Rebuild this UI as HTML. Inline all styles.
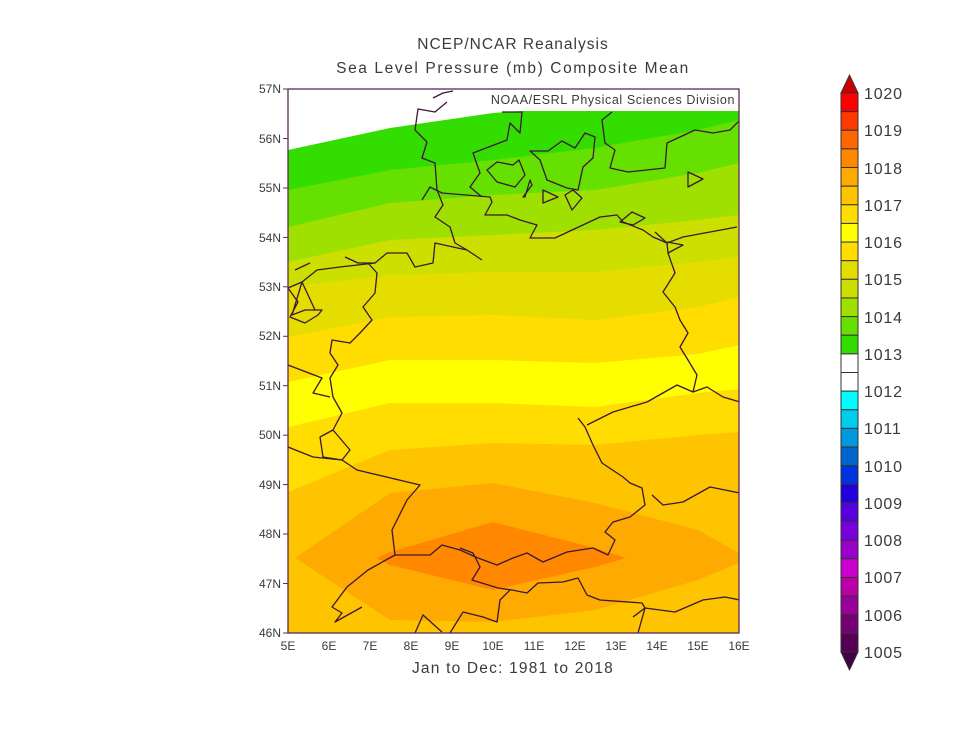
<!DOCTYPE html>
<html><head><meta charset="utf-8"><style>
html,body{margin:0;padding:0;background:#fff}
svg{display:block}
text{font-family:"Liberation Sans","DejaVu Sans",sans-serif;fill:#3a3a3a}
</style></head><body>
<svg width="960" height="744" viewBox="0 0 960 744" xmlns="http://www.w3.org/2000/svg">
<defs><clipPath id="c"><rect x="288" y="89" width="451" height="544"/></clipPath></defs>
<g clip-path="url(#c)">
<rect x="288" y="89" width="451" height="544" fill="#fff"/>
<polygon fill="#33dd00" points="288,150 390,128 493,113 595,106 698,100 739,96 739,640 288,640"/>
<polygon fill="#66e000" points="288,190 390,170 493,160 595,148 698,130 739,120 739,640 288,640"/>
<polygon fill="#a0e000" points="288,227 390,203 493,195 595,190 698,173 739,163 739,640 288,640"/>
<polygon fill="#cce000" points="288,262 390,240 493,235 595,230 698,220 739,215 739,640 288,640"/>
<polygon fill="#e5dd00" points="288,287 390,275 493,272 595,272 698,262 739,257 739,640 288,640"/>
<polygon fill="#ffdd00" points="288,337 390,317 493,315 595,320 698,307 739,297 739,640 288,640"/>
<polygon fill="#ffff00" points="288,382 390,360 493,360 595,363 698,354 739,345 739,640 288,640"/>
<polygon fill="#ffdd00" points="288,427 390,403 493,403 595,407 698,393 739,389 739,640 288,640"/>
<polygon fill="#ffc400" points="288,492 390,450 493,443 595,445 698,435 739,432 739,640 288,640"/>
<polygon fill="#ffaa00" points="295,558 390,493 493,483 595,503 698,530 739,553 739,563 698,580 595,610 493,622 390,620"/>
<polygon fill="#ff8800" points="377,558 390,552 493,522 595,548 626,558 595,567 493,590 390,565"/>
<g fill="none" stroke="#3a1838" stroke-width="1.3" stroke-linejoin="round">
<polyline points="433,98 443,93 453,91"/>
<polyline points="447,102 435,112 418,109 415,130 427,142 422,158 435,163 437,190 443,205 435,217 450,227 455,243 467,250 482,260"/>
<polyline points="422,200 430,187 442,193 490,197 492,202 485,215 507,215 520,220 537,225 530,238 555,238 600,217 617,215 623,222 643,230 653,237 667,243 683,237 737,227"/>
<polyline points="502,112 522,112 520,133 510,123 507,140 473,153 480,173 470,187 482,197"/>
<polygon points="487,170 497,162 513,165 519,160 525,175 515,187 497,182"/>
<polygon points="525,197 530,180 532,185 523,197"/>
<polygon points="530,151 548,151 562,141 575,148 585,133 595,137 593,158 583,167 578,190 567,188 547,180 540,160"/>
<polyline points="612,112 602,120 605,143 615,150 610,168 628,172 665,168 667,143 695,130 713,133 730,130 740,120"/>
<polygon points="543,190 558,197 543,203"/>
<polygon points="565,195 573,190 582,198 572,210"/>
<polygon points="688,172 703,179 688,187"/>
<polygon points="620,222 632,212 645,218 633,225"/>
<polyline points="655,232 667,243 668,253 683,245 667,242"/>
<polyline points="668,253 675,273 663,292 675,307 680,320 688,333 680,347 688,360 697,375 693,392"/>
<polyline points="345,257 358,263 375,263 387,253 407,253 415,267 433,263 435,243 453,247 467,250"/>
<polyline points="375,263 340,267 317,270 302,282 288,288"/>
<polyline points="368,263 377,273 375,293 363,307 372,320 360,333 350,343 332,340 330,353 338,365 330,378 333,397 342,413 333,430 320,437 323,457 342,460 350,450 333,430"/>
<polyline points="295,270 310,263"/>
<polyline points="288,288 298,302 290,317 305,323 318,315 322,310 305,310 292,315 302,282 315,310"/>
<polyline points="288,365 322,378 313,393 330,397"/>
<polyline points="288,447 313,457 342,460 357,470 420,485 407,500 392,530 395,555 368,570 347,587 332,607 342,613 335,622 362,607"/>
<polyline points="395,555 430,555 442,545 460,550 478,558 497,565 513,558 527,553 543,562 567,552 593,548 608,555 615,540 605,532 613,522 630,517 645,505 642,488 630,483 623,477 602,463 593,445 585,427 578,418"/>
<polyline points="587,425 613,412 647,402 677,385 693,392 707,387 723,397 740,402"/>
<polyline points="652,495 663,505 683,502 710,487 740,493"/>
<polyline points="460,548 473,553 480,567 472,580 498,588 512,590 527,593 538,583 563,582 578,578 587,595 600,600 642,603 645,608 675,612 703,600 725,597 740,600"/>
<polyline points="415,633 423,615 442,632"/>
<polyline points="450,633 463,612 483,617 497,622 500,600 510,590"/>
<polyline points="633,617 645,608 638,633"/>
</g>
<rect x="468" y="89" width="271" height="22" fill="#fff"/>
<text x="735" y="104" font-size="12.5" text-anchor="end" letter-spacing="0.6">NOAA/ESRL Physical Sciences Division</text>
</g>
<rect x="288" y="89" width="451" height="544" fill="none" stroke="#5a2a5a" stroke-width="1.3"/>
<g stroke="#5a2a5a" stroke-width="1">
<line x1="283" y1="89" x2="288" y2="89"/><line x1="283" y1="138.5" x2="288" y2="138.5"/><line x1="283" y1="188" x2="288" y2="188"/><line x1="283" y1="237.4" x2="288" y2="237.4"/><line x1="283" y1="286.8" x2="288" y2="286.8"/><line x1="283" y1="336.3" x2="288" y2="336.3"/><line x1="283" y1="385.7" x2="288" y2="385.7"/><line x1="283" y1="435.2" x2="288" y2="435.2"/><line x1="283" y1="484.6" x2="288" y2="484.6"/><line x1="283" y1="534" x2="288" y2="534"/><line x1="283" y1="583.5" x2="288" y2="583.5"/><line x1="283" y1="633" x2="288" y2="633"/>
</g>
<g font-size="12" text-anchor="end">
<text x="281" y="93">57N</text><text x="281" y="143">56N</text><text x="281" y="192">55N</text><text x="281" y="242">54N</text><text x="281" y="291">53N</text><text x="281" y="340">52N</text><text x="281" y="390">51N</text><text x="281" y="439">50N</text><text x="281" y="489">49N</text><text x="281" y="538">48N</text><text x="281" y="588">47N</text><text x="281" y="637">46N</text>
</g>
<g font-size="12" text-anchor="middle">
<text x="288" y="650">5E</text><text x="329" y="650">6E</text><text x="370" y="650">7E</text><text x="411" y="650">8E</text><text x="452" y="650">9E</text><text x="493" y="650">10E</text><text x="534" y="650">11E</text><text x="575" y="650">12E</text><text x="616" y="650">13E</text><text x="657" y="650">14E</text><text x="698" y="650">15E</text><text x="739" y="650">16E</text>
</g>
<g font-size="15.5" text-anchor="middle">
<text x="513" y="49" letter-spacing="1">NCEP/NCAR Reanalysis</text>
<text x="513" y="73" letter-spacing="1.6">Sea Level Pressure (mb) Composite Mean</text>
<text x="513" y="673" letter-spacing="1.2">Jan to Dec: 1981 to 2018</text>
</g>
<g stroke="#333" stroke-width="1">
<polygon points="841,93 858,93 849.5,75" fill="#cc0000"/>
<polygon points="841,652 858,652 849.5,670" fill="#440044"/>
<rect x="841" y="93" width="17" height="18.63" fill="#ff0000"/>
<rect x="841" y="111.63" width="17" height="18.63" fill="#ff3a00"/>
<rect x="841" y="130.27" width="17" height="18.63" fill="#ff6600"/>
<rect x="841" y="148.9" width="17" height="18.63" fill="#ff8800"/>
<rect x="841" y="167.53" width="17" height="18.63" fill="#ffaa00"/>
<rect x="841" y="186.17" width="17" height="18.63" fill="#ffc400"/>
<rect x="841" y="204.8" width="17" height="18.63" fill="#ffdd00"/>
<rect x="841" y="223.43" width="17" height="18.63" fill="#ffff00"/>
<rect x="841" y="242.07" width="17" height="18.63" fill="#ffdd00"/>
<rect x="841" y="260.7" width="17" height="18.63" fill="#e5dd00"/>
<rect x="841" y="279.33" width="17" height="18.63" fill="#cce000"/>
<rect x="841" y="297.97" width="17" height="18.63" fill="#a0e000"/>
<rect x="841" y="316.6" width="17" height="18.63" fill="#66e000"/>
<rect x="841" y="335.23" width="17" height="18.63" fill="#33dd00"/>
<rect x="841" y="353.87" width="17" height="18.63" fill="#ffffff"/>
<rect x="841" y="372.5" width="17" height="18.63" fill="#ffffff"/>
<rect x="841" y="391.13" width="17" height="18.63" fill="#00ffff"/>
<rect x="841" y="409.77" width="17" height="18.63" fill="#00ccee"/>
<rect x="841" y="428.4" width="17" height="18.63" fill="#0099dd"/>
<rect x="841" y="447.03" width="17" height="18.63" fill="#0066cc"/>
<rect x="841" y="465.67" width="17" height="18.63" fill="#0033dd"/>
<rect x="841" y="484.3" width="17" height="18.63" fill="#2200dd"/>
<rect x="841" y="502.93" width="17" height="18.63" fill="#5500dd"/>
<rect x="841" y="521.57" width="17" height="18.63" fill="#7700dd"/>
<rect x="841" y="540.2" width="17" height="18.63" fill="#9900cc"/>
<rect x="841" y="558.83" width="17" height="18.63" fill="#cc00cc"/>
<rect x="841" y="577.47" width="17" height="18.63" fill="#bb00aa"/>
<rect x="841" y="596.1" width="17" height="18.63" fill="#990099"/>
<rect x="841" y="614.73" width="17" height="18.63" fill="#770077"/>
<rect x="841" y="633.37" width="17" height="18.63" fill="#550055"/>
</g>
<g font-size="16" letter-spacing="0.8">
<text x="864" y="99">1020</text><text x="864" y="136">1019</text><text x="864" y="174">1018</text><text x="864" y="211">1017</text><text x="864" y="248">1016</text><text x="864" y="285">1015</text><text x="864" y="323">1014</text><text x="864" y="360">1013</text><text x="864" y="397">1012</text><text x="864" y="434">1011</text><text x="864" y="472">1010</text><text x="864" y="509">1009</text><text x="864" y="546">1008</text><text x="864" y="583">1007</text><text x="864" y="621">1006</text><text x="864" y="658">1005</text>
</g>
</svg>
</body></html>
